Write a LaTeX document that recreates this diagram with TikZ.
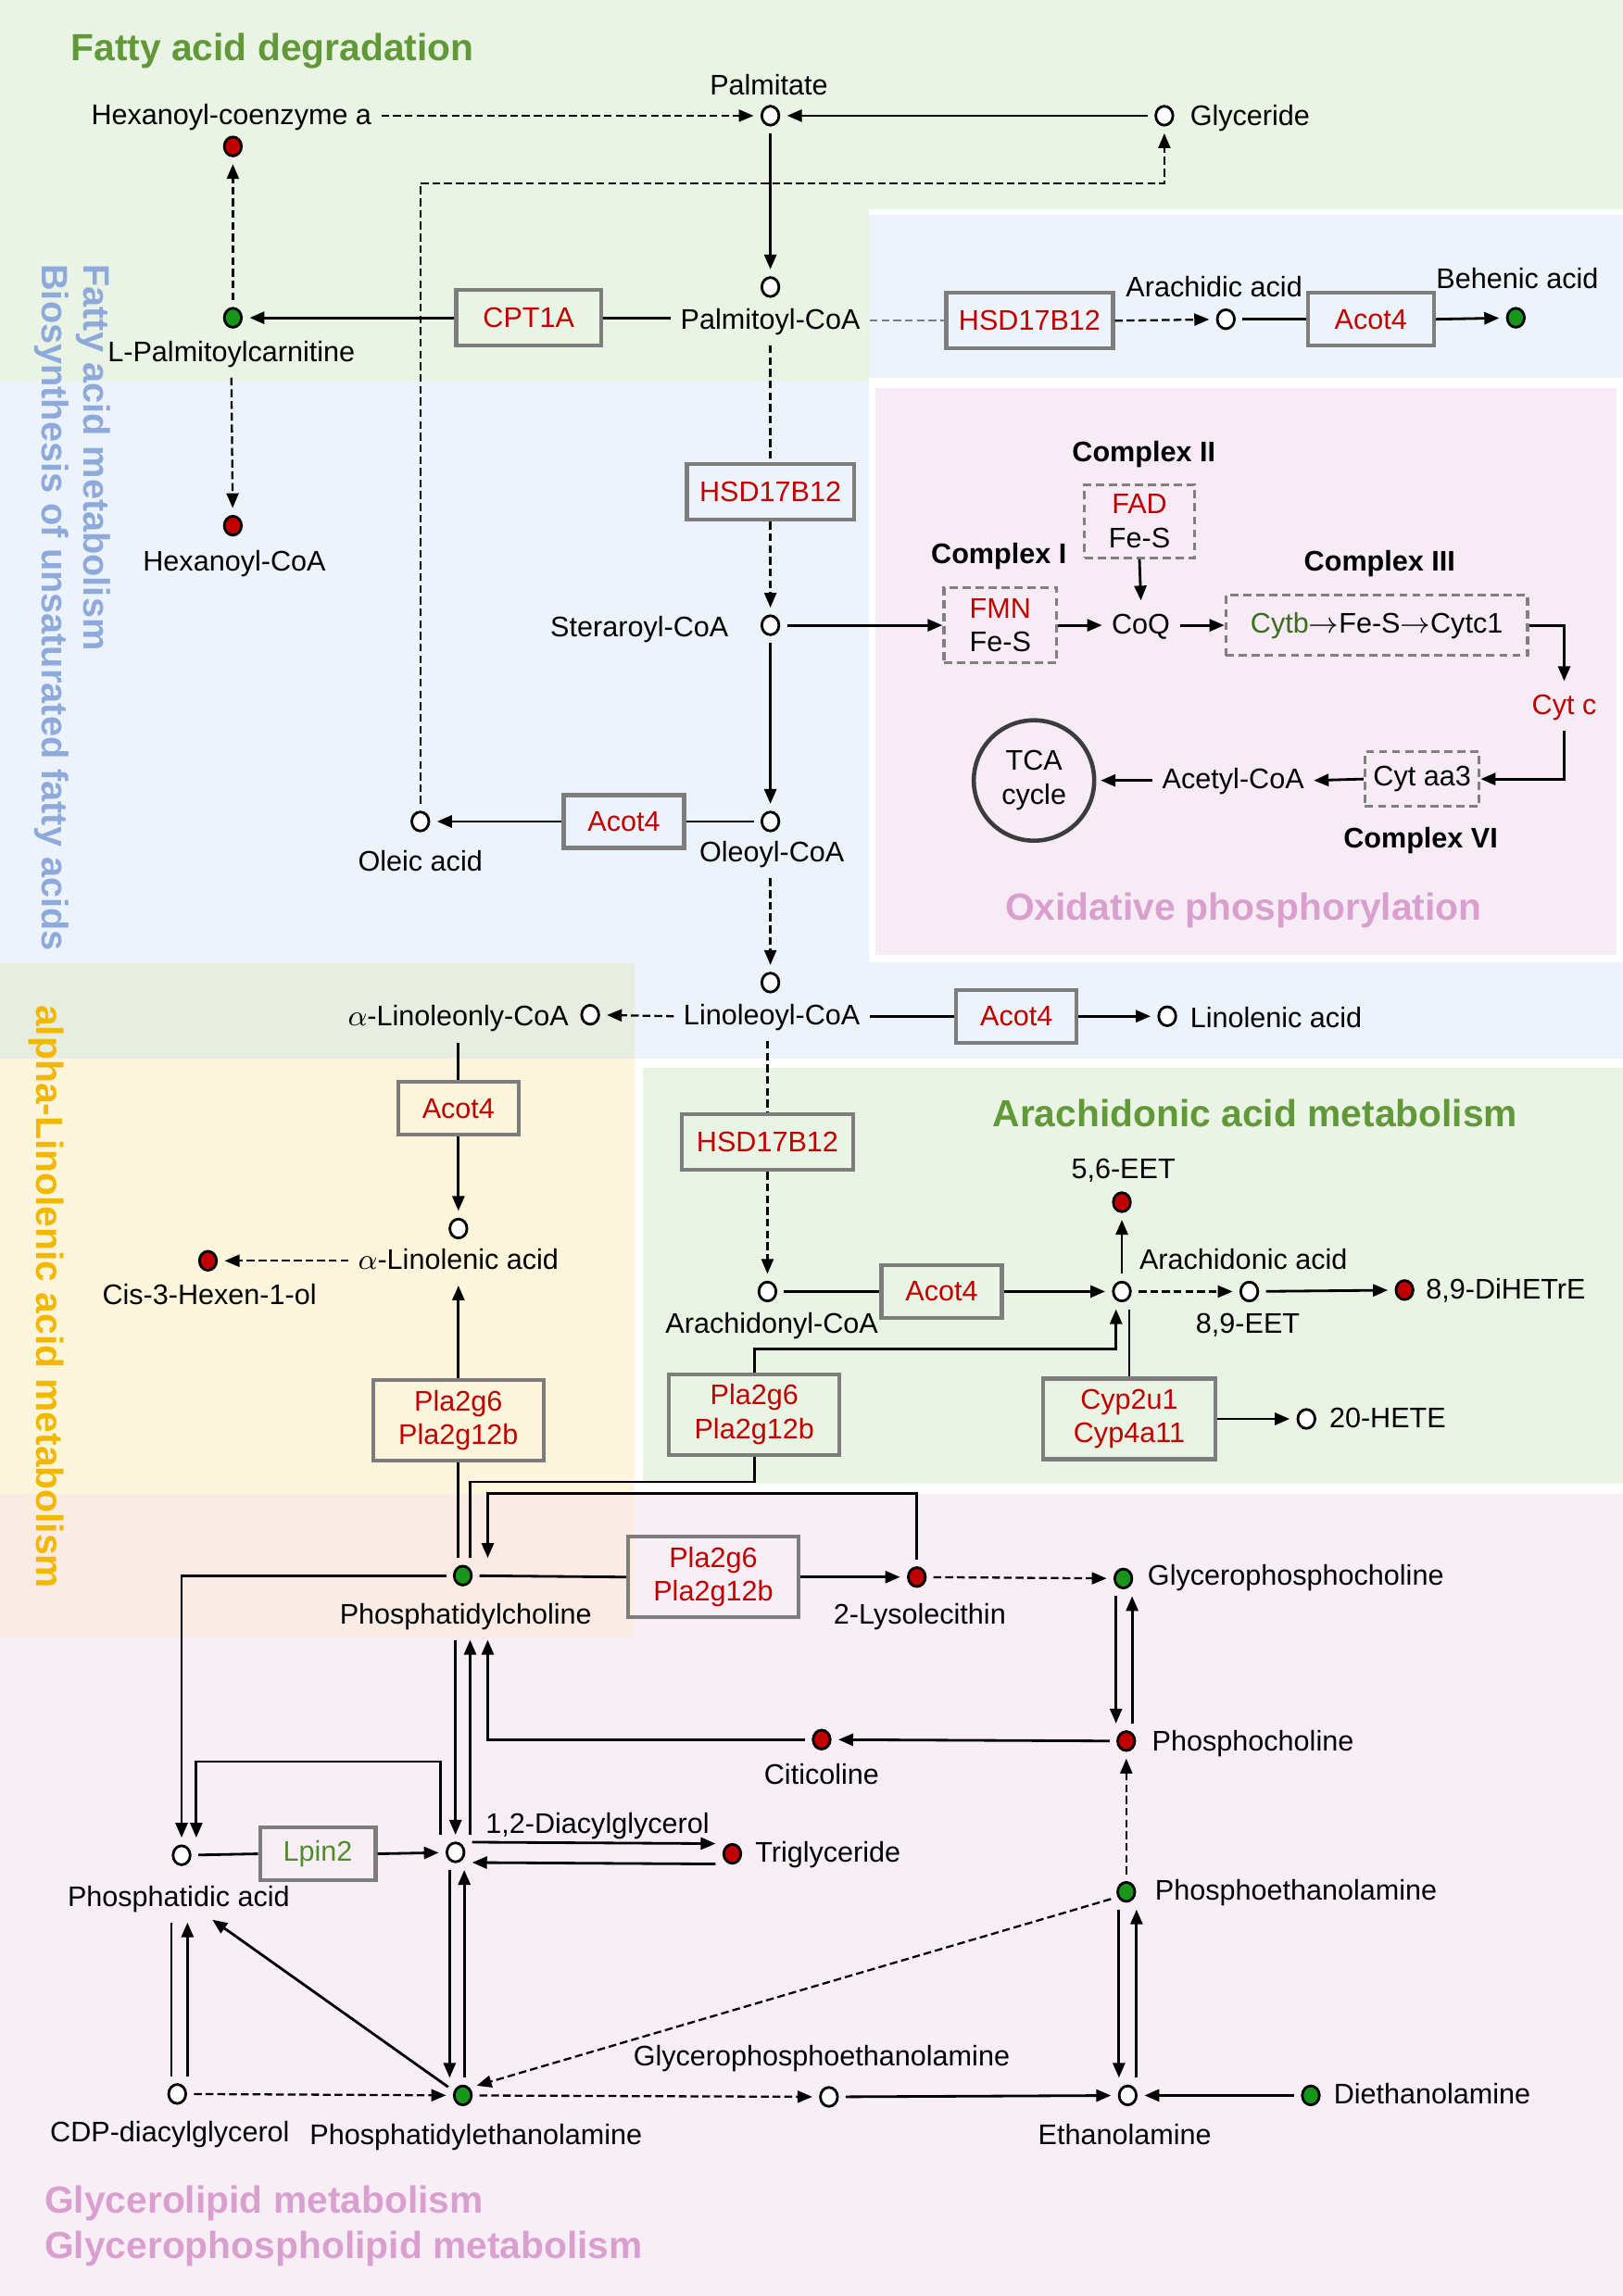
\documentclass[tikz,border=0pt]{standalone}
\usepackage{fontspec}
\setmainfont{Liberation Sans}
\usetikzlibrary{arrows.meta,shapes.geometric}
\definecolor{bgblue}{RGB}{237,243,250}
\definecolor{bggreen}{RGB}{234,244,228}
\definecolor{bgoxpink}{RGB}{247,236,246}
\definecolor{bgaagreen}{RGB}{234,244,228}
\definecolor{bgpink}{RGB}{248,239,246}
\definecolor{bgyellow}{RGB}{253,246,220}
\definecolor{ovblue}{RGB}{232,237,226}
\definecolor{ovpink}{RGB}{250,236,228}
\definecolor{enzred}{RGB}{192,0,0}
\definecolor{metred}{RGB}{192,0,0}
\definecolor{metgreen}{RGB}{24,150,28}
\definecolor{enzgrey}{RGB}{125,125,125}
\definecolor{cplxgrey}{RGB}{128,128,128}
\definecolor{lpingreen}{RGB}{80,140,40}
\definecolor{cytbgreen}{RGB}{60,110,30}
\definecolor{hdrgreen}{RGB}{98,153,56}
\definecolor{hdrpink}{RGB}{217,160,207}
\definecolor{hdrblue}{RGB}{142,170,219}
\definecolor{hdrorange}{RGB}{242,184,0}
\definecolor{tcagrey}{RGB}{60,60,60}
\newcommand{\fs}{\fontsize{8.7}{10.4}\selectfont}
\newcommand{\hdr}{\fontsize{11.6}{13}\selectfont\bfseries}
\newcommand{\hdrv}{\fontsize{11.3}{12.8}\selectfont\bfseries}
\newcommand{\cto}{$\rightarrow$}
\tikzset{
  met/.style ={ellipse, draw=black, line width=0.8pt, fill=white,
               minimum width=1.85mm, minimum height=2.05mm, inner sep=0pt, outer sep=2.5pt},
  metr/.style={met, fill=metred},
  metg/.style={met, fill=metgreen},
  lbl/.style ={font=\fs, inner sep=0.5pt, outer sep=2.5pt, text height=0.72em, text depth=0.2em},
  enz/.style ={rectangle, draw=enzgrey, line width=1.2pt, text=enzred, font=\fs, align=center,
               inner sep=1pt, minimum width=1.3cm, minimum height=0.57cm},
  enzwide/.style={enz, minimum width=1.84cm, minimum height=0.87cm},
  cplx/.style={rectangle, draw=cplxgrey, line width=0.9pt, dash pattern=on 2.5pt off 1.5pt,
               font=\fs, align=center, inner sep=1pt},
  cplxlbl/.style={font=\fs\bfseries},
  tca/.style ={circle, draw=tcagrey, line width=1.3pt, minimum size=1.3cm, inner sep=0pt,
               outer sep=2pt, font=\fs, align=center},
  hdrtxt/.style={font=\hdr, inner sep=0pt},
  hdrvert/.style={font=\hdrv, inner sep=0pt, rotate=-90, anchor=north west, align=left},
  rx/.style  ={-{Triangle[length=1.6mm,width=1.3mm]}, line width=0.8pt},
  rxd/.style ={rx, line width=0.65pt, dash pattern=on 2.4pt off 1.2pt},
  ln/.style  ={line width=0.8pt},
  lnd/.style ={line width=0.65pt, dash pattern=on 2.4pt off 1.2pt},
}

\begin{document}
\begin{tikzpicture}[x=0.015812cm, y=-0.015812cm]
  \useasboundingbox (0,0) rectangle (1108,1568);
  % pathway areas
  \fill[bgblue]    (593,147) rectangle (1108,723);
  \fill[bgblue]    (0,260) rectangle (593,723);
  \fill[bggreen]   (0,0) rectangle (1108,143);
  \fill[bggreen]   (0,143) rectangle (593,260);
  \fill[white]     (593,258) rectangle (1108,657);
  \fill[bgoxpink]  (598,265) rectangle (1104,652);
  \fill[white]     (433,723) rectangle (1108,1020);
  \fill[bgaagreen] (439,729) rectangle (1108,1013);
  \fill[bgpink]    (0,1020) rectangle (1108,1568);
  \fill[bgyellow]  (0,723) rectangle (433,1020);
  \fill[ovblue]    (0,658) rectangle (433,723);
  \fill[ovpink]    (0,1020) rectangle (433,1118);

  % area titles
  \node[hdrtxt, text=hdrgreen, anchor=west] (tFad) at (48,35) {Fatty acid degradation};
  \node[hdrvert, text=hdrblue] (tFam) at (76,180)
    {Fatty acid metabolism\\Biosynthesis of unsaturated fatty acids};
  \node[hdrvert, text=hdrorange, font=\hdr] (tAla) at (44,686) {alpha-Linolenic acid metabolism};
  \node[hdrtxt, text=hdrpink] (tOx) at (849,622) {Oxidative phosphorylation};
  \node[hdrtxt, text=hdrgreen] (tAra) at (857,760) {Arachidonic acid metabolism};
  \node[hdrtxt, text=hdrpink, anchor=west] (tGl) at (30,1505) {Glycerolipid metabolism};
  \node[hdrtxt, text=hdrpink, anchor=west] (tGpl) at (30,1536) {Glycerophospholipid metabolism};

  % fatty acid degradation
  \node[met]  (palm)    at (526,79)  {};
  \node[lbl]  (lpalm)   at (525,59)  {Palmitate};
  \node[lbl]  (lhexcoa) at (158,79)  {Hexanoyl-coenzyme a};
  \node[metr] (hexcoa)  at (159,100) {};
  \node[met]  (gly)     at (795,79)  {};
  \node[lbl, anchor=west] (lgly) at (806,80) {Glyceride};
  \node[met]  (palmcoa) at (526,196) {};
  \node[lbl]  (lpalmcoa) at (526,219) {Palmitoyl-CoA};
  \node[metg] (lpcarn)  at (159,217) {};
  \node[lbl]  (llpcarn) at (158,241) {L-Palmitoylcarnitine};
  \node[metr] (hexcoa2) at (159,359) {};
  \node[lbl]  (lhexcoa2) at (160,384) {Hexanoyl-CoA};
  \node[enz, minimum width=1.565cm, minimum height=0.6cm] (cpt) at (361,217) {CPT1A};
  \node[enz, minimum width=1.8cm, minimum height=0.6cm] (hsdA) at (703,219) {HSD17B12};
  \node[met]  (arach)   at (837,218) {};
  \node[lbl]  (larach)  at (829,197) {Arachidic acid};
  \node[enz, minimum width=1.36cm] (acotA) at (936,218) {Acot4};
  \node[metg] (behen)   at (1035,217) {};
  \node[lbl]  (lbehen)  at (1036,191) {Behenic acid};

  \coordinate (kOleGly) at (795,125);
  \draw[rxd] (lhexcoa) -- (palm);
  \draw[rx]  (gly) -- (palm);
  \draw[rx]  (palm) -- (palmcoa);
  \draw[ln]  (cpt.east -| lpalmcoa.west) -- (cpt.east);
  \draw[rx]  (cpt.west) -- (lpcarn);
  \draw[rxd] (lpcarn) -- (hexcoa);
  \draw[rxd] (llpcarn.south) -- (hexcoa2);
  \draw[lnd, enzgrey] (lpalmcoa.east) -- (hsdA.west);
  \draw[rxd] (hsdA.east) -- (arach);
  \draw[ln]  (arach) -- (acotA.west);
  \draw[rx]  (acotA.east) -- (behen);

  % saturated / unsaturated chain
  \node[enz, minimum width=1.8cm, minimum height=0.6cm] (hsdB) at (526,336) {HSD17B12};
  \node[met]  (stear)   at (526,427) {};
  \node[lbl, anchor=east] (lstear) at (504,429) {Steraroyl-CoA};
  \node[met]  (oleoyl)  at (526,561) {};
  \node[lbl]  (loleoyl) at (527,583) {Oleoyl-CoA};
  \node[enz]  (acotB)   at (426,561) {Acot4};
  \node[met]  (oleic)   at (287,561) {};
  \node[lbl]  (loleic)  at (287,589) {Oleic acid};
  \node[met]  (linoleoyl) at (526,671) {};
  \node[lbl]  (llinoleoyl) at (527,694) {Linoleoyl-CoA};
  \node[met]  (alincoa) at (403,693) {};
  \node[lbl, anchor=east] (lalincoa) at (395,695) {$\alpha$-Linoleonly-CoA};
  \node[enz]  (acotC)   at (694,694) {Acot4};
  \node[met]  (linolenic) at (797,694) {};
  \node[lbl, anchor=west] (llinolenic) at (806,696) {Linolenic acid};

  \draw[rxd] (oleic.north) |- (kOleGly) -- (gly.south);
  \draw[lnd] (lpalmcoa.south) -- (hsdB.north);
  \draw[rxd] (hsdB.south) -- (stear);
  \draw[rx]  (stear) -- (oleoyl);
  \draw[ln]  (oleoyl) -- (acotB.east);
  \draw[rx]  (acotB.west) -- (oleic);
  \draw[rxd] (loleoyl.south -| linoleoyl) -- (linoleoyl);
  \draw[rxd] (llinoleoyl.west) -- (alincoa);
  \draw[ln]  (llinoleoyl.east) -- (acotC.west);
  \draw[rx]  (acotC.east) -- (linolenic);

  % oxidative phosphorylation
  \node[cplx, minimum width=1.218cm, minimum height=0.806cm] (cI) at (683,427)
    {{\color{enzred}FMN}\\Fe-S};
  \node[cplxlbl] (lcI) at (682,380) {Complex I};
  \node[cplx, minimum width=1.186cm, minimum height=0.79cm] (cII) at (778,356)
    {{\color{enzred}FAD}\\Fe-S};
  \node[cplxlbl] (lcII) at (781,310) {Complex II};
  \node[lbl] (coq) at (779,427) {CoQ};
  \node[cplx, minimum width=3.257cm, minimum height=0.648cm] (cIII) at (940,427)
    {{\color{cytbgreen}Cytb}\cto Fe-S\cto Cytc1};
  \node[cplxlbl] (lcIII) at (942,385) {Complex III};
  \node[lbl, text=enzred] (cytc) at (1068,482) {Cyt c};
  \node[cplx, minimum width=1.233cm, minimum height=0.585cm] (cVI) at (971,532) {Cyt aa3};
  \node[cplxlbl] (lcVI) at (970,574) {Complex VI};
  \node[lbl] (acetyl) at (842,533) {Acetyl-CoA};
  \node[tca] (tcac) at (706,533) {TCA\\cycle};

  \draw[rx] (stear) -- (cI.west);
  \draw[rx] (cI.east) -- (coq.west);
  \draw[rx] (cII.south) -- (coq.north);
  \draw[rx] (coq.east) -- (cIII.west);
  \draw[rx] (cIII.east) -| (cytc.north);
  \draw[rx] (cytc.south) |- (cVI.east);
  \draw[rx] (cVI.west) -- (acetyl.east);
  \draw[rx] (acetyl.west) -- (tcac.east);

  % alpha-linolenic acid
  \node[enz]  (acotD)   at (313,757) {Acot4};
  \node[met]  (alinac)  at (313,839) {};
  \node[lbl]  (lalinac) at (313,861) {$\alpha$-Linolenic acid};
  \node[metr] (cis)     at (142,861) {};
  \node[lbl]  (lcis)    at (143,885) {Cis-3-Hexen-1-ol};
  \node[enzwide] (plaA) at (313,970) {Pla2g6\\Pla2g12b};

  \draw[ln]  (lalincoa.south -| acotD.north) -- (acotD.north);
  \draw[rx]  (acotD.south) -- (alinac);
  \draw[rxd] (lalinac.west) -- (cis);
  \draw[rx]  (plaA.north) -- (lalinac.south);

  % arachidonic acid
  \node[enz, minimum width=1.85cm, minimum height=0.6cm] (hsdC) at (524,780) {HSD17B12};
  \node[met]  (arcoa)   at (524,882) {};
  \node[lbl]  (larcoa)  at (527,905) {Arachidonyl-CoA};
  \node[enz]  (acotE)   at (643,882) {Acot4};
  \node[met]  (arac)    at (766,882) {};
  \node[lbl]  (larac)   at (849,861) {Arachidonic acid};
  \node[metr] (eetA)    at (766,821) {};
  \node[lbl]  (leetA)   at (767,799) {5,6-EET};
  \node[met]  (eetB)    at (853,882) {};
  \node[lbl]  (leetB)   at (852,905) {8,9-EET};
  \node[metr] (dihet)   at (959,881) {};
  \node[lbl, anchor=west] (ldihet) at (967,881) {8,9-DiHETrE};
  \node[enzwide] (plaB) at (515,966) {Pla2g6\\Pla2g12b};
  \node[enzwide, minimum width=1.866cm] (cyp) at (771,969) {Cyp2u1\\Cyp4a11};
  \node[met]  (hete)    at (892,969) {};
  \node[lbl, anchor=west] (lhete) at (901,969) {20-HETE};

  \coordinate (kPlaArac) at (762,921);
  \draw[lnd] (llinoleoyl.south -| hsdC.north) -- (hsdC.north);
  \draw[rxd] (hsdC.south) -- (arcoa);
  \draw[ln]  (arcoa) -- (acotE.west);
  \draw[rx]  (acotE.east) -- (arac);
  \draw[rx]  (arac) -- (eetA);
  \draw[rxd] (arac) -- (eetB);
  \draw[rx]  (eetB) -- (dihet);
  \draw[rx]  (plaB.north) |- (kPlaArac) -- (arac.south -| kPlaArac);
  \draw[ln]  (cyp.north) -- (arac.south -| cyp.north);
  \draw[rx]  (cyp.east) -- (hete);

  % glycerolipid / glycerophospholipid
  \node[metg] (pc)    at (316,1076) {};
  \node[lbl]  (lpc)   at (318,1103) {Phosphatidylcholine};
  \node[enzwide] (plaC) at (487,1077) {Pla2g6\\Pla2g12b};
  \node[metr] (lyso)  at (626,1077) {};
  \node[lbl]  (llyso) at (628,1103) {2-Lysolecithin};
  \node[metg] (gpc)   at (767,1078) {};
  \node[lbl, anchor=west] (lgpc) at (777,1077) {Glycerophosphocholine};
  \node[metr] (pcho)  at (769,1189) {};
  \node[lbl, anchor=west] (lpcho) at (780,1190) {Phosphocholine};
  \node[metr] (citi)  at (561,1188) {};
  \node[lbl]  (lciti) at (561,1213) {Citicoline};
  \node[met]  (pa)    at (124,1267) {};
  \node[lbl]  (lpa)   at (122,1296) {Phosphatidic acid};
  \node[enz, text=lpingreen, minimum width=1.249cm] (lpin) at (217,1266) {Lpin2};
  \node[met]  (dag)   at (311,1265) {};
  \node[lbl]  (ldag)  at (408,1246) {1,2-Diacylglycerol};
  \node[metr] (tg)    at (500,1266) {};
  \node[lbl, anchor=west] (ltg) at (509,1266) {Triglyceride};
  \node[metg] (pe)    at (316,1431) {};
  \node[lbl]  (lpe)   at (325,1459) {Phosphatidylethanolamine};
  \node[met]  (cdp)   at (121,1430) {};
  \node[lbl]  (lcdp)  at (116,1457) {CDP-diacylglycerol};
  \node[met]  (gpe)   at (566,1432) {};
  \node[lbl]  (lgpe)  at (561,1405) {Glycerophosphoethanolamine};
  \node[met]  (etha)  at (770,1431) {};
  \node[lbl]  (letha) at (768,1459) {Ethanolamine};
  \node[metg] (dieth) at (895,1431) {};
  \node[lbl, anchor=west] (ldieth) at (904,1431) {Diethanolamine};
  \node[metg] (petha) at (769,1292) {};
  \node[lbl, anchor=west] (lpetha) at (782,1292) {Phosphoethanolamine};

  \coordinate (kPlaB)  at (321,1012);
  \coordinate (kLyso)  at (333,1020);
  \coordinate (kDagPa) at (134,1203);
  \coordinate (kPePa)  at (145,1311);
  \coordinate (cA) at (311,0);
  \coordinate (cB) at (321,0);
  \coordinate (cC) at (333,0);
  \coordinate (cD) at (307,0);
  \coordinate (cE) at (317,0);
  \coordinate (cF) at (117,0);
  \coordinate (cG) at (128,0);
  \coordinate (cH) at (764,0);
  \coordinate (cI) at (776,0);
  \coordinate (cJ) at (762,0);
  \coordinate (cK) at (773,0);

  \draw[ln]  (plaA.south) -- (plaA.south |- pc.north);
  \draw[ln]  (plaB.south) |- (kPlaB) -- (kPlaB |- pc.north);
  \draw[rx]  (lyso.north) |- (kLyso) -- (kLyso |- pc.north);
  \draw[ln]  (pc) -- (plaC.west);
  \draw[rx]  (plaC.east) -- (lyso);
  \draw[rxd] (lyso) -- (gpc);
  \draw[rx]  (gpc.south -| cJ) -- (pcho.north -| cJ);
  \draw[rx]  (pcho.north -| cK) -- (gpc.south -| cK);
  \draw[rx]  (pcho) -- (citi);
  \draw[rx]  (citi.west) -| (lpc.south -| cC);
  \draw[rx]  (lpc.south -| cA) -- (dag.north -| cA);
  \draw[rx]  (dag.north -| cB) -- (lpc.south -| cB);
  \draw[rx]  (pc.west) -| (pa.north);
  \draw[rx]  ([xshift=-1.6mm]dag.north) |- (kDagPa) -- (kDagPa |- pa.north);
  \draw[ln]  (pa) -- (lpin.west);
  \draw[rx]  (lpin.east) -- (dag);
  \draw[rx]  ([yshift=1.1mm]dag.east) -- ([yshift=1.1mm]tg.west);
  \draw[rx]  ([yshift=-1.1mm]tg.west) -- ([yshift=-1.1mm]dag.east);
  \draw[rx]  (dag.south -| cD) -- (pe.north -| cD);
  \draw[rx]  (pe.north -| cE) -- (dag.south -| cE);
  \draw[rx]  (pe.150) -- (kPePa);
  \draw[ln]  (cdp.north -| cF) -- (lpa.south -| cF);
  \draw[rx]  (cdp.north -| cG) -- (lpa.south -| cG);
  \draw[rxd] (cdp) -- (pe);
  \draw[rxd] (pe) -- (gpe);
  \draw[rx]  (gpe) -- (etha);
  \draw[rx]  (dieth) -- (etha);
  \draw[rx]  (petha.south -| cH) -- (etha.north -| cH);
  \draw[rx]  (etha.north -| cI) -- (petha.south -| cI);
  \draw[rxd] (petha) -- (pcho);
  \draw[rxd] (petha.205) -- (pe.35);
\end{tikzpicture}
\end{document}
